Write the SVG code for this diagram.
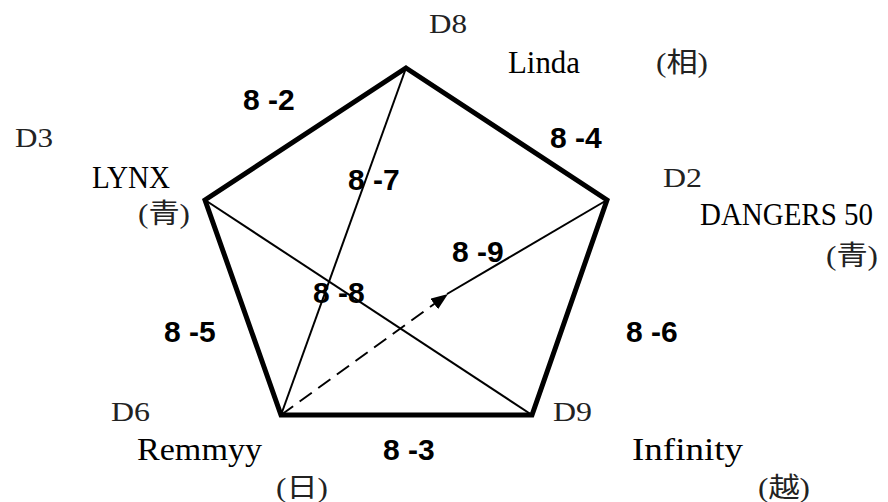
<svg xmlns="http://www.w3.org/2000/svg" width="888" height="502" viewBox="0 0 888 502">
<style>
.dl{font-family:"Liberation Serif",serif;font-size:28px;fill:#222}
.nm{font-family:"Liberation Serif",serif;font-size:31px;fill:#000}
.cj{font-family:"Liberation Serif","Noto Sans CJK JP",serif;font-size:27px;fill:#222}
.el{font-family:"Liberation Sans",Arial,sans-serif;font-size:30px;font-weight:bold;fill:#000}
.thick{fill:none;stroke:#000;stroke-width:5;stroke-linejoin:miter}
.thin{fill:none;stroke:#000;stroke-width:2}
.dash{fill:none;stroke:#000;stroke-width:2;stroke-dasharray:15 8}
</style>
<defs>
<marker id="ah" viewBox="0 0 17 13" refX="17" refY="6.5" markerWidth="17" markerHeight="13" markerUnits="userSpaceOnUse" orient="auto">
<path d="M0,0 L17,6.5 L0,13 z" fill="#000"/>
</marker>
</defs>
<rect width="888" height="502" fill="#fff"/>
<g id="connectors">
<polygon class="thick" points="406,68 607,200 532,415 281,415 205,200"/>
<line class="thin" x1="406" y1="68" x2="281" y2="415"/>
<line class="thin" x1="205" y1="200" x2="532" y2="415"/>
<line class="dash" x1="281" y1="415" x2="448" y2="294" marker-end="url(#ah)"/>
<line class="thin" x1="447" y1="294" x2="607" y2="200"/>
</g>
<g id="edge-labels">
<text class="el" x="243" y="110">8 -2</text>
<text class="el" x="550" y="148">8 -4</text>
<text class="el" x="348" y="190">8 -7</text>
<text class="el" x="452" y="262">8 -9</text>
<text class="el" x="313" y="303">8 -8</text>
<text class="el" x="164" y="342">8 -5</text>
<text class="el" x="626" y="342">8 -6</text>
<text class="el" x="383" y="460">8 -3</text>
</g>
<g id="node-D8">
<text class="dl" x="429" y="33" textLength="38" lengthAdjust="spacingAndGlyphs">D8</text>
<text class="nm" x="508" y="73" textLength="72" lengthAdjust="spacingAndGlyphs">Linda</text>
<text class="cj" x="656" y="72" textLength="52" lengthAdjust="spacingAndGlyphs">(相)</text>
</g>
<g id="node-D3">
<text class="dl" x="15" y="147" textLength="38" lengthAdjust="spacingAndGlyphs">D3</text>
<text class="nm" x="92" y="188" textLength="78" lengthAdjust="spacingAndGlyphs">LYNX</text>
<text class="cj" x="138" y="223" textLength="52" lengthAdjust="spacingAndGlyphs">(青)</text>
</g>
<g id="node-D2">
<text class="dl" x="663" y="187" textLength="39" lengthAdjust="spacingAndGlyphs">D2</text>
<text class="nm" x="700" y="225" textLength="173" lengthAdjust="spacingAndGlyphs">DANGERS 50</text>
<text class="cj" x="826" y="265" textLength="52" lengthAdjust="spacingAndGlyphs">(青)</text>
</g>
<g id="node-D6">
<text class="dl" x="111" y="421" textLength="39" lengthAdjust="spacingAndGlyphs">D6</text>
<text class="nm" x="137" y="460" textLength="125" lengthAdjust="spacingAndGlyphs">Remmyy</text>
<text class="cj" x="276" y="497" textLength="52" lengthAdjust="spacingAndGlyphs">(日)</text>
</g>
<g id="node-D9">
<text class="dl" x="553" y="421" textLength="39" lengthAdjust="spacingAndGlyphs">D9</text>
<text class="nm" x="632" y="460" textLength="111" lengthAdjust="spacingAndGlyphs">Infinity</text>
<text class="cj" x="758" y="497" textLength="52" lengthAdjust="spacingAndGlyphs">(越)</text>
</g>
</svg>
